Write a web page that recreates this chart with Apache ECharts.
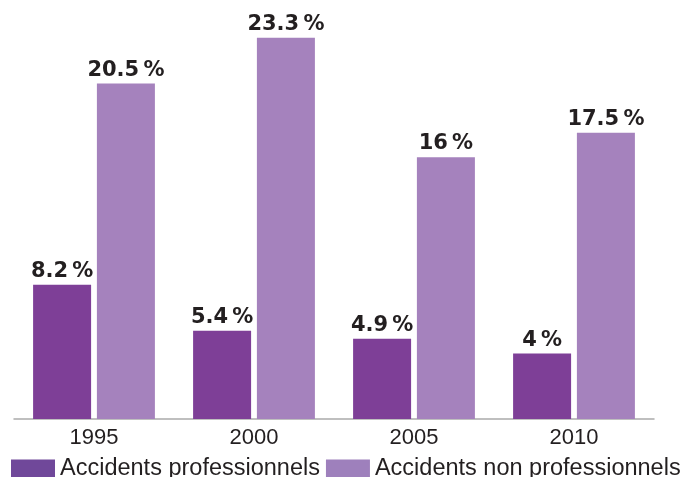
<!DOCTYPE html>
<html>
<head>
<meta charset="utf-8">
<script src="https://cdn.jsdelivr.net/npm/echarts@6/dist/echarts.min.js"></script>
<style>html,body{margin:0;padding:0;background:#fff;}#c{width:685px;height:477px;}</style>
</head>
<body>
<div id="c"></div>
<script>
var categories = ['1995', '2000', '2005', '2010'];
var professionnels = [8.2, 5.4, 4.9, 4];
var nonProfessionnels = [20.5, 23.3, 16, 17.5];
var seriesNames = ['Accidents professionnels', 'Accidents non professionnels'];

var chart = echarts.init(document.getElementById('c'));
var labelCfg = {
  show: true,
  position: 'top',
  distance: 3,
  color: '#231f20',
  fontFamily: 'DejaVu Sans',
  fontWeight: 'bold',
  fontSize: 21,
  formatter: function (p) { return p.value + '\u2009%'; }
};
chart.setOption({
  animation: false,
  grid: { left: 14, right: 31, top: 10, bottom: 58 },
  legend: {
    left: 11, top: 457, padding: 0,
    itemWidth: 44, itemHeight: 19, itemGap: 6,
    icon: 'rect',
    textStyle: { fontFamily: 'Liberation Sans', fontSize: 23.5, color: '#231f20' },
    data: [
      { name: seriesNames[0], itemStyle: { color: '#70489a' } },
      { name: seriesNames[1], itemStyle: { color: '#9e80bc' } }
    ]
  },
  xAxis: {
    type: 'category',
    data: categories,
    axisLine: { lineStyle: { color: '#aaaaaa', width: 1.5 } },
    axisTick: { show: false },
    axisLabel: { fontFamily: 'Liberation Sans', fontSize: 22, color: '#231f20', margin: 8 }
  },
  yAxis: {
    type: 'value', min: 0, max: 25,
    show: false,
    splitLine: { show: false }
  },
  series: [
    { name: seriesNames[0], type: 'bar', data: professionnels, barWidth: 58, barGap: '10%',
      itemStyle: { color: '#7e3f97' }, label: labelCfg },
    { name: seriesNames[1], type: 'bar', data: nonProfessionnels, barWidth: 58,
      itemStyle: { color: '#a582bd' }, label: labelCfg }
  ]
});
</script>
</body>
</html>
